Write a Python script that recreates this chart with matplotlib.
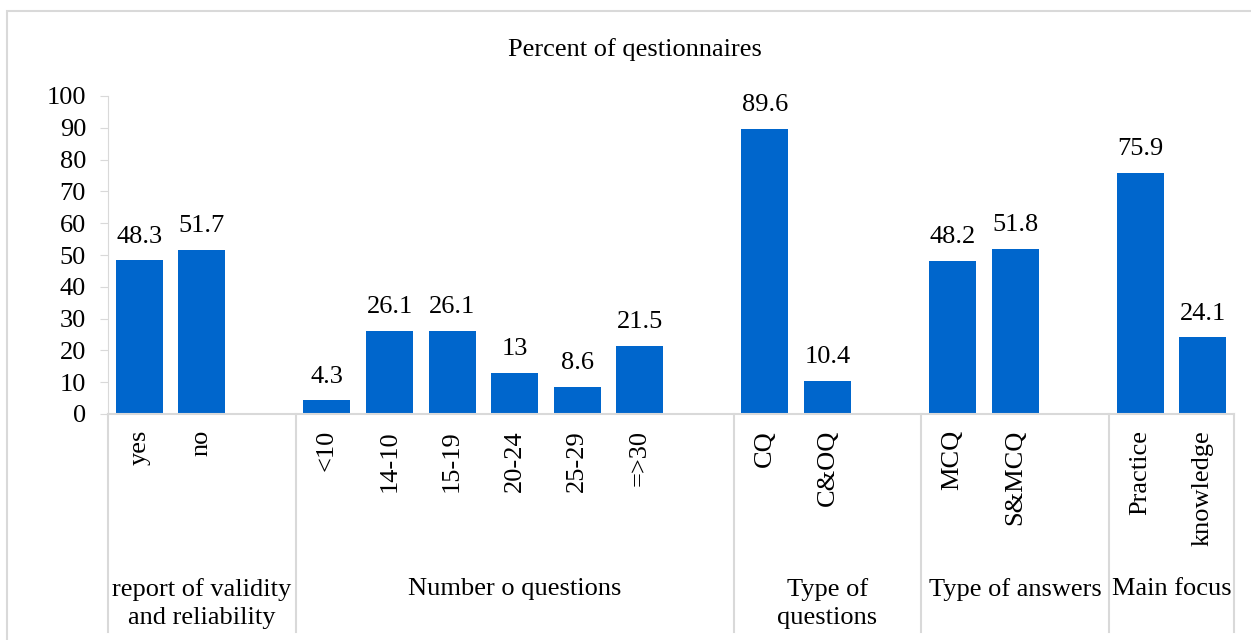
import numpy as np
import matplotlib.pyplot as plt
from matplotlib.patches import Rectangle

plt.rcParams['font.family'] = ['Liberation Serif', 'DejaVu Serif']

# categories per group, blank slot after every group except the last
groups = ['report of validity\nand reliability', 'Number o questions',
          'Type of\nquestions', 'Type of answers', 'Main focus']
group_cats = [['yes', 'no'],
              ['<10', '14-10', '15-19', '20-24', '25-29', '=>30'],
              ['CQ', 'C&OQ'],
              ['MCQ', 'S&MCQ'],
              ['Practice', 'knowledge']]
group_vals = [[48.3, 51.7],
              [4.3, 26.1, 26.1, 13, 8.6, 21.5],
              [89.6, 10.4],
              [48.2, 51.8],
              [75.9, 24.1]]

blue = '#0066CC'
grid = '#D9D9D9'
fs = 19

fig = plt.figure(figsize=(12.51, 6.40), dpi=100)
ax = fig.add_axes([108 / 1251, 1 - 414 / 640, (1234 - 108) / 1251, (414 - 96) / 640])

pos, labels, vals = [], [], []
bounds = [0]
slot = 0
for i, (cats, v) in enumerate(zip(group_cats, group_vals)):
    for c, y in zip(cats, v):
        pos.append(slot)
        labels.append(c)
        vals.append(y)
        slot += 1
    if i < len(groups) - 1:
        slot += 1
    bounds.append(slot)
n_slots = slot

ax.bar(pos, vals, width=0.75, color=blue, zorder=2)
for x, y in zip(pos, vals):
    ax.text(x, y + 5.6, f'{y:g}', ha='center', va='baseline', fontsize=fs)

ax.set_xlim(-0.5, n_slots - 0.5)
ax.set_ylim(0, 100)
ax.set_yticks(np.arange(0, 101, 10))
ax.tick_params(axis='y', labelsize=fs, length=5.8, color=grid, pad=10)
ax.set_xticks([])
for s in ['top', 'right']:
    ax.spines[s].set_visible(False)
ax.spines['left'].set_color(grid)
ax.spines['bottom'].set_color(grid)
ax.spines['bottom'].set_linewidth(1.5)

trans = ax.get_xaxis_transform()
# rotated category labels
for x, lab in zip(pos, labels):
    ax.text(x, -0.05, lab, rotation=90, ha='center', va='top', fontsize=fs,
            transform=trans, clip_on=False)

# group separators and group labels
y_bottom = -(632 - 414) / (414 - 96)
for b in bounds:
    ax.plot([b - 0.5, b - 0.5], [0, y_bottom], color=grid, lw=1.5,
            transform=trans, clip_on=False)
for g, a, b in zip(groups, bounds[:-1], bounds[1:]):
    ax.text((a + b) / 2 - 0.5, -(578 - 414) / (414 - 96), g, ha='center', va='top',
            fontsize=fs, linespacing=1.35, transform=trans, clip_on=False)

fig.text(635 / 1251, 1 - 50 / 640, 'Percent of qestionnaires', ha='center', va='center',
         fontsize=fs)

# chart frame
fig.patches.append(Rectangle((7 / 1251, -0.1), 1.2, 1 - 11 / 640 + 0.1, transform=fig.transFigure,
                             fill=False, edgecolor=grid, lw=1.5))

fig.savefig('out.png', dpi=100)
